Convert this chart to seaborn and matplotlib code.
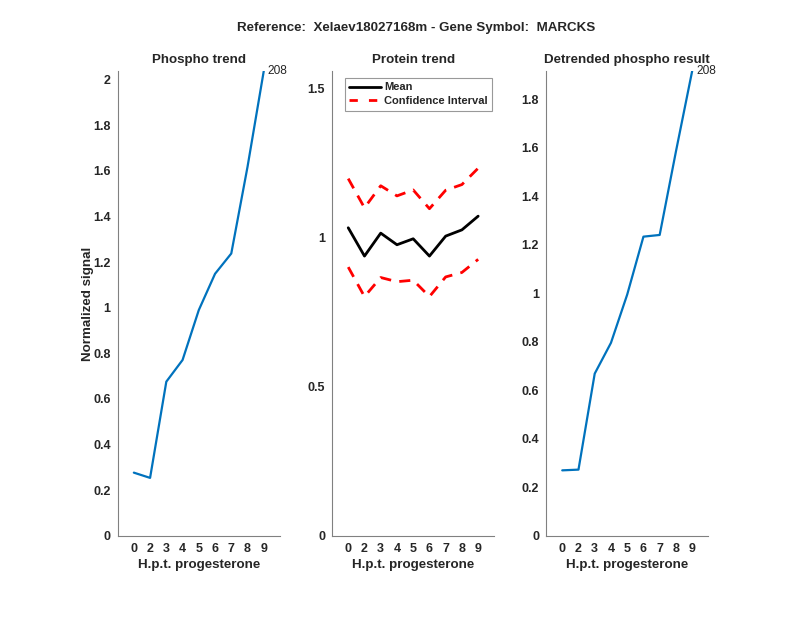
import numpy as np
import pandas as pd
import matplotlib
matplotlib.use("Agg")
import matplotlib.pyplot as plt
import seaborn as sns

# Data
hours = ["0", "2", "3", "4", "5", "6", "7", "8", "9"]
phospho = [0.277, 0.254, 0.676, 0.771, 0.990, 1.149, 1.238, 1.618, 2.038]
protein_mean = [1.034, 0.939, 1.016, 0.977, 0.997, 0.939, 1.006, 1.027, 1.073]
protein_upper = [1.199, 1.101, 1.175, 1.141, 1.161, 1.098, 1.160, 1.179, 1.234]
protein_lower = [0.902, 0.803, 0.867, 0.853, 0.858, 0.803, 0.869, 0.884, 0.928]
detrended = [0.270, 0.273, 0.669, 0.796, 0.995, 1.234, 1.241, 1.585, 1.917]
peptide_label = "208"

sns.set_style("white")
plt.rcParams['font.family'] = ['Liberation Sans', 'DejaVu Sans']

axis_col = "#262626"
blue = "#0072BD"
lab_size = 9.6
tick_size = 9

pos = np.arange(1, len(hours) + 1)
df = pd.DataFrame({
    "pos": pos,
    "phospho": phospho,
    "mean": protein_mean,
    "upper": protein_upper,
    "lower": protein_lower,
    "detrended": detrended,
})

fig = plt.figure(figsize=(8, 6.18), dpi=100)
w, h, b = 0.203, 0.752, 0.133
ax1 = fig.add_axes([0.147, b, w, h])
ax2 = fig.add_axes([0.415, b, w, h])
ax3 = fig.add_axes([0.6825, b, w, h])

# Phospho trend
sns.lineplot(data=df, x="pos", y="phospho", ax=ax1, color=blue, lw=1.6)
ax1.text(pos[-1] + 0.25, phospho[-1], peptide_label, fontsize=8.6, va="center", ha="left")
ax1.set_ylim(0, max(phospho))
ax1.set_yticks(np.arange(0, 2.01, 0.2))
ax1.set_yticklabels(["0", "0.2", "0.4", "0.6", "0.8", "1", "1.2", "1.4", "1.6", "1.8", "2"])
ax1.set_ylabel("Normalized signal", fontsize=lab_size, fontweight="bold",
               color=axis_col, labelpad=-1)
ax1.set_title("Phospho trend", fontsize=lab_size, fontweight="bold", pad=5.5)

# Protein trend
sns.lineplot(data=df, x="pos", y="mean", ax=ax2, color="black", lw=2.0, label="Mean")
sns.lineplot(data=df, x="pos", y="upper", ax=ax2, color="red", lw=2.0,
             label="Confidence Interval")
sns.lineplot(data=df, x="pos", y="lower", ax=ax2, color="red", lw=2.0, label="_nolegend_")
for ln in ax2.lines[1:]:
    ln.set_linestyle((0, (4, 3)))
ax2.set_ylim(0, 1.56)
ax2.set_yticks([0, 0.5, 1, 1.5])
ax2.set_yticklabels(["0", "0.5", "1", "1.5"])
ax2.set_ylabel("")
ax2.set_title("Protein trend", fontsize=lab_size, fontweight="bold", pad=5.5)
leg = ax2.legend(loc="upper left", bbox_to_anchor=(0.08, 0.985), fontsize=8,
                 frameon=True, fancybox=False, handlelength=2.8, borderpad=0.4,
                 labelspacing=0.35, handletextpad=0.3, borderaxespad=0)
leg.get_frame().set_edgecolor("#808080")
leg.get_frame().set_linewidth(0.8)
for t in leg.get_texts():
    t.set_fontweight("bold")
for hl in leg.get_lines()[1:]:
    hl.set_linestyle((0, (3, 4)))

# Detrended phospho result
sns.lineplot(data=df, x="pos", y="detrended", ax=ax3, color=blue, lw=1.6)
ax3.text(pos[-1] + 0.25, detrended[-1], peptide_label, fontsize=8.6, va="center", ha="left")
ax3.set_ylim(0, max(detrended))
ax3.set_yticks(np.arange(0, 1.81, 0.2))
ax3.set_yticklabels(["0", "0.2", "0.4", "0.6", "0.8", "1", "1.2", "1.4", "1.6", "1.8"])
ax3.set_ylabel("")
ax3.set_title("Detrended phospho result", fontsize=lab_size, fontweight="bold", pad=5.5)

for ax in (ax1, ax2, ax3):
    ax.set_xlim(0, len(hours) + 1)
    ax.set_xticks(pos)
    ax.set_xticklabels(hours)
    ax.set_xlabel("H.p.t. progesterone", fontsize=lab_size, fontweight="bold",
                  color=axis_col, labelpad=3)
    sns.despine(ax=ax)
    for s in ("left", "bottom"):
        ax.spines[s].set_color("#808080")
        ax.spines[s].set_linewidth(0.8)
    ax.tick_params(direction="in", length=4, width=0.8, color="#808080",
                   labelsize=tick_size, labelcolor=axis_col, pad=5)
    for lbl in ax.get_xticklabels() + ax.get_yticklabels():
        lbl.set_fontweight("bold")

fig.suptitle("Reference:  Xelaev18027168m - Gene Symbol:  MARCKS",
             fontsize=lab_size, fontweight="bold", x=0.52, y=0.965)

fig.savefig("out.png", dpi=100)
